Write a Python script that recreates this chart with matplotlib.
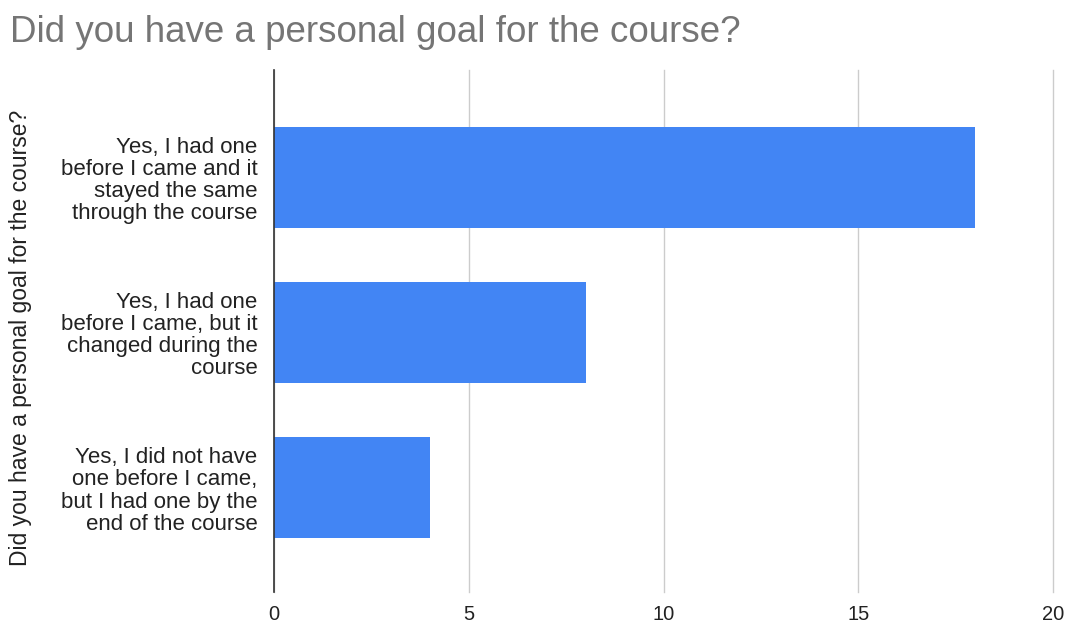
import matplotlib
matplotlib.use("Agg")
import numpy as np
import matplotlib.pyplot as plt

TITLE = "Did you have a personal goal for the course?"
categories = [
    "Yes, I had one\nbefore I came and it\nstayed the same\nthrough the course",
    "Yes, I had one\nbefore I came, but it\nchanged during the\ncourse",
    "Yes, I did not have\none before I came,\nbut I had one by the\nend of the course",
]
counts = [18, 8, 4]
x_ticks = [0, 5, 10, 15, 20]

BAR_COLOR = "#4285F4"
TEXT_COLOR = "#222222"
TITLE_COLOR = "#757575"
GRID_COLOR = "#cccccc"

plt.rcParams["font.family"] = ["Liberation Sans", "DejaVu Sans"]

fig = plt.figure(figsize=(10.67, 6.24), dpi=100)
ax = fig.add_axes([274 / 1067, 1 - 592 / 624, (1053 - 274) / 1067, (592 - 70) / 624])

y = np.arange(len(categories))
ax.barh(y, counts, height=0.65, color=BAR_COLOR, zorder=3)

ax.set_xlim(0, 20)
ax.set_ylim(2.67, -0.69)
ax.set_xticks(x_ticks)
ax.set_xticklabels([str(t) for t in x_ticks], fontsize=14.5, color=TEXT_COLOR)
ax.set_yticks(y)
ax.set_yticklabels(categories, fontsize=16, color=TEXT_COLOR, linespacing=1.07)
ax.tick_params(axis="both", length=0)
ax.tick_params(axis="x", pad=9)
ax.tick_params(axis="y", pad=12)

ax.grid(axis="x", color=GRID_COLOR, linewidth=1, zorder=0)
# keep the last gridline (x=20) from being half clipped at the axes edge
for line in ax.get_xgridlines():
    line.set_clip_on(False)
for side in ("top", "right", "bottom"):
    ax.spines[side].set_visible(False)
ax.spines["left"].set_color("#333333")
ax.spines["left"].set_linewidth(1.2)
ax.spines["left"].set_zorder(4)

ax.set_ylabel(TITLE, fontsize=16.5, color=TEXT_COLOR)
ax.yaxis.set_label_coords(32 / 1067, 1 - 338 / 624, transform=fig.transFigure)

fig.text(10 / 1067, 1 - 42 / 624, TITLE, fontsize=26.5, color=TITLE_COLOR,
         ha="left", va="baseline")

fig.savefig("out.png", dpi=100)
